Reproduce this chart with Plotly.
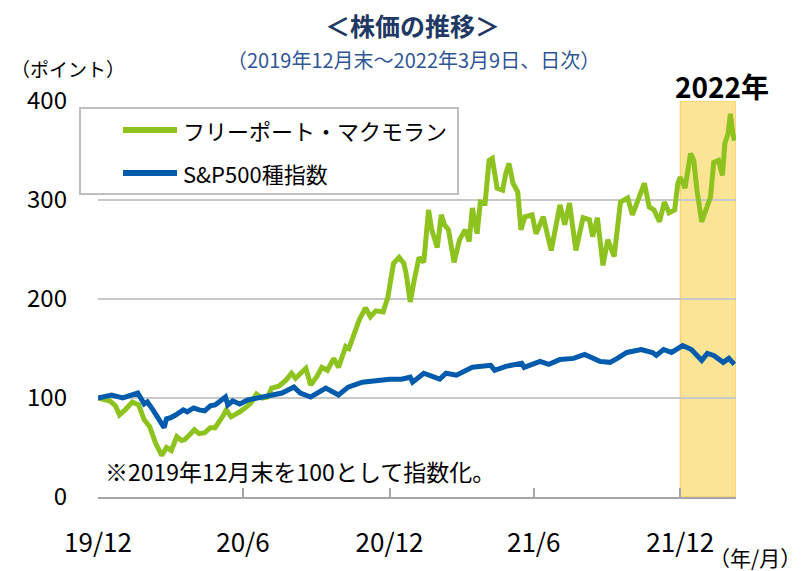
import plotly.graph_objects as go

# ---------------- data ----------------
fcx_dates = [
    "2019-12-31", "2020-01-08", "2020-01-15", "2020-01-22", "2020-01-27", "2020-02-03",
    "2020-02-12", "2020-02-20", "2020-02-27", "2020-03-05", "2020-03-12", "2020-03-20",
    "2020-03-26", "2020-04-01", "2020-04-08", "2020-04-14", "2020-04-18", "2020-04-23",
    "2020-04-30", "2020-05-06", "2020-05-13", "2020-05-20", "2020-05-26", "2020-06-05",
    "2020-06-09", "2020-06-15", "2020-06-26", "2020-07-06", "2020-07-10", "2020-07-17",
    "2020-07-24", "2020-07-31", "2020-08-05", "2020-08-14", "2020-08-23", "2020-08-30",
    "2020-09-04", "2020-09-17", "2020-09-23", "2020-10-01", "2020-10-07", "2020-10-14",
    "2020-10-22", "2020-10-28", "2020-11-06", "2020-11-10", "2020-11-16", "2020-11-23",
    "2020-12-01", "2020-12-07", "2020-12-14", "2020-12-23", "2020-12-29", "2021-01-05",
    "2021-01-12", "2021-01-18", "2021-01-21", "2021-01-26", "2021-01-31", "2021-02-06",
    "2021-02-12", "2021-02-18", "2021-02-22", "2021-03-01", "2021-03-06", "2021-03-10",
    "2021-03-15", "2021-03-22", "2021-03-29", "2021-04-05", "2021-04-10", "2021-04-14",
    "2021-04-20", "2021-04-24", "2021-04-30", "2021-05-05", "2021-05-09", "2021-05-12",
    "2021-05-15", "2021-05-22", "2021-05-26", "2021-05-30", "2021-06-04", "2021-06-10",
    "2021-06-14", "2021-06-19", "2021-06-28", "2021-07-03", "2021-07-12", "2021-07-22",
    "2021-08-02", "2021-08-08", "2021-08-14", "2021-08-22", "2021-08-31", "2021-09-08",
    "2021-09-12", "2021-09-18", "2021-09-25", "2021-10-01", "2021-10-09", "2021-10-17",
    "2021-10-26", "2021-11-01", "2021-11-07", "2021-11-16", "2021-11-22", "2021-11-28",
    "2021-12-05", "2021-12-11", "2021-12-17", "2021-12-24", "2021-12-28", "2021-12-31",
    "2022-01-06", "2022-01-13", "2022-01-17", "2022-01-21", "2022-01-27", "2022-02-03",
    "2022-02-07", "2022-02-11", "2022-02-17", "2022-02-22", "2022-02-25", "2022-03-01",
    "2022-03-04", "2022-03-07", "2022-03-09",
]
fcx_values = [
    100, 99, 97, 92, 83, 88,
    96, 93, 78, 71, 55, 42,
    50, 47, 61, 57, 58, 62,
    68, 64, 65, 70, 70, 82,
    88, 81, 86, 92, 95, 104,
    100, 101, 110, 112, 118, 125,
    120, 130, 113, 122, 131, 128,
    140, 131, 152, 150, 165, 179,
    191, 182, 188, 187, 202, 236,
    242, 236, 225, 197, 219, 242,
    237, 290, 270, 252, 285, 275,
    270, 237, 260, 270, 258, 292,
    266, 298, 297, 340, 342, 325,
    312, 310, 327, 337, 317, 308,
    270, 283, 285, 266, 283, 249,
    295, 275, 297, 249, 282, 280,
    263, 282, 234, 260, 243, 298,
    302, 285, 298, 317, 293, 290,
    278, 298, 287, 290, 317, 323,
    312, 347, 340, 310, 278, 296,
    303, 338, 340, 325, 357, 367,
    387, 367, 360,
]

spx_dates = [
    "2019-12-31", "2020-01-10", "2020-01-17", "2020-01-31", "2020-02-10", "2020-02-19",
    "2020-02-27", "2020-03-02", "2020-03-09", "2020-03-16", "2020-03-23", "2020-03-26",
    "2020-03-31", "2020-04-07", "2020-04-16", "2020-04-21", "2020-04-29", "2020-05-06",
    "2020-05-13", "2020-05-20", "2020-05-26", "2020-06-08", "2020-06-11", "2020-06-17",
    "2020-06-26", "2020-07-06", "2020-07-23", "2020-08-05", "2020-08-18", "2020-09-02",
    "2020-09-10", "2020-09-23", "2020-10-12", "2020-10-28", "2020-11-09", "2020-11-27",
    "2020-12-18", "2020-12-31", "2021-01-15", "2021-01-26", "2021-01-29", "2021-02-12",
    "2021-03-04", "2021-03-12", "2021-03-25", "2021-04-14", "2021-05-07", "2021-05-12",
    "2021-05-26", "2021-06-15", "2021-06-18", "2021-07-08", "2021-07-19", "2021-08-02",
    "2021-08-19", "2021-09-02", "2021-09-21", "2021-10-04", "2021-10-13", "2021-10-25",
    "2021-11-12", "2021-11-26", "2021-12-01", "2021-12-10", "2021-12-20", "2022-01-03",
    "2022-01-14", "2022-01-27", "2022-02-03", "2022-02-11", "2022-02-23", "2022-03-02",
    "2022-03-09",
]
spx_values = [
    100, 102, 103, 100, 103, 105,
    94, 96, 88, 78, 70, 79,
    80, 83, 88, 86, 90, 88,
    87, 92, 93, 101, 93, 97,
    94, 98, 101, 103, 105, 111,
    105, 101, 110, 103, 111, 116,
    118, 119, 119, 121, 116, 125,
    119, 125, 123, 131, 133, 128,
    132, 135, 131, 137, 134, 139,
    140, 144, 137, 136, 140, 146,
    149, 146, 143, 149, 146, 153,
    149, 138, 145, 143, 136, 140,
    134,
]

series_names = ["フリーポート・マクモラン", "S&P500種指数"]
x_tick_vals = ["2019-12-31", "2020-06-30", "2020-12-31", "2021-06-30", "2021-12-31"]
x_tick_text = ["19/12", "20/6", "20/12", "21/6", "21/12"]
y_tick_vals = [0, 100, 200, 300, 400]
highlight_start = "2021-12-31"
x_range = ["2019-12-31", "2022-03-11"]

# ---------------- styling ----------------
FONT = "Noto Sans CJK JP"
GREEN = "#8DC21F"
BLUE = "#005BAC"
GRID = "#C8C8C8"

OFF = 8  # default page margin of the written HTML
W, H = 805 - OFF, 571 - OFF
# plot area in window pixels: x 98..736, y 101..497
L = 98 - OFF
T = 101 - OFF
R = W - (736 - OFF)
B = H - (497 - OFF)
PW, PH = W - L - R, H - T - B


def px(xp):
    return (xp - OFF - L) / PW


def py(yp):
    return (H - B - (yp - OFF)) / PH


fig = go.Figure()
fig.add_trace(go.Scatter(x=fcx_dates, y=fcx_values, mode="lines", name=series_names[0],
                         line=dict(color=GREEN, width=5), showlegend=False))
fig.add_trace(go.Scatter(x=spx_dates, y=spx_values, mode="lines", name=series_names[1],
                         line=dict(color=BLUE, width=5), showlegend=False))

shapes = [
    dict(type="rect", xref="x", yref="y", x0=highlight_start, x1=x_range[1], y0=0, y1=400,
         fillcolor="#FCE496", line=dict(color="#F5C85A", width=1), layer="below"),
    dict(type="rect", xref="paper", yref="paper", x0=px(80), x1=px(458), y0=py(194), y1=py(108),
         fillcolor="white", line=dict(color="#BFBFBF", width=2), layer="above"),
    dict(type="line", xref="paper", yref="paper", x0=px(123), x1=px(177), y0=py(130), y1=py(130),
         line=dict(color=GREEN, width=6), layer="above"),
    dict(type="line", xref="paper", yref="paper", x0=px(123), x1=px(177), y0=py(173), y1=py(173),
         line=dict(color=BLUE, width=6), layer="above"),
]


def ann(text, xp, yp, size, color="#000000", xanchor="center"):
    return dict(text=text, x=px(xp), y=py(yp), xref="paper", yref="paper",
                xanchor=xanchor, yanchor="middle", showarrow=False,
                font=dict(family=FONT, size=size, color=color))


annotations = [
    ann("<b>＜株価の推移＞</b>", 412, 25, 25, "#1F3864"),
    ann("（2019年12月末～2022年3月9日、日次）", 413, 59, 20, "#2F5597"),
    ann("（ポイント）", 9, 68, 19, xanchor="left"),
    ann("<b>2022年</b>", 722, 86, 28),
    ann(series_names[0], 181, 130, 22, xanchor="left"),
    ann(series_names[1], 181, 173, 22, xanchor="left"),
    ann("※2019年12月末を100として指数化。", 103, 471, 23, xanchor="left"),
    ann("（年/月）", 803, 557, 21, xanchor="right"),
]

fig.update_layout(
    width=W, height=H,
    margin=dict(l=L, r=R, t=T, b=B),
    paper_bgcolor="white", plot_bgcolor="white",
    font=dict(family=FONT, color="#000000"),
    shapes=shapes, annotations=annotations,
    showlegend=False,
)
fig.update_xaxes(
    type="date", range=x_range, tickvals=x_tick_vals, ticktext=x_tick_text,
    showgrid=False, showline=True, linecolor="#A6A6A6", linewidth=2,
    ticks="inside", ticklen=9, tickwidth=2, tickcolor="#A6A6A6",
    tickfont=dict(family=FONT, size=26, color="#000000"), ticklabelstandoff=22,
    automargin=False, zeroline=False,
)
fig.update_yaxes(
    range=[0, 400], tickvals=y_tick_vals, showgrid=True, gridcolor=GRID, gridwidth=2,
    zeroline=False, showline=False, ticks="",
    tickfont=dict(family=FONT, size=24, color="#000000"), ticklabelstandoff=30,
    automargin=False,
)

fig.write_html("out.html")
